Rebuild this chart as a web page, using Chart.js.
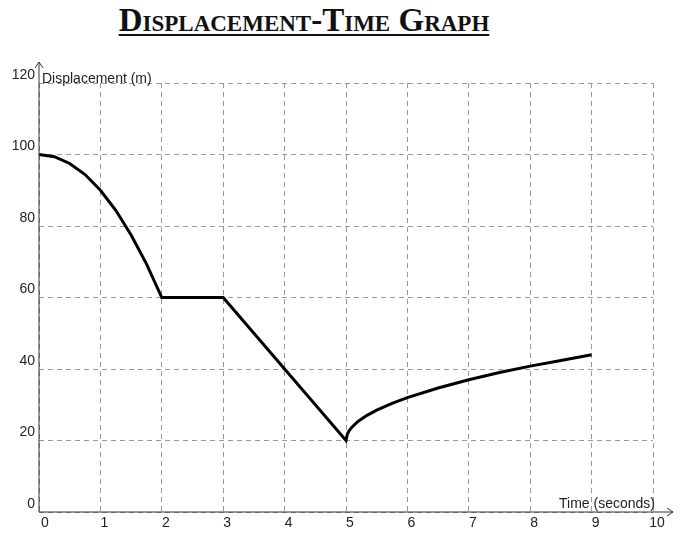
<!DOCTYPE html>
<html><head><meta charset="utf-8">
<script src="https://cdn.jsdelivr.net/npm/chart.js@4/dist/chart.umd.min.js"></script>
<style>
body{margin:0;background:#fff;width:697px;height:542px;overflow:hidden;position:relative}
#t{position:absolute;left:0;width:608px;top:2px;text-align:center;font-family:"Liberation Serif",serif;font-weight:bold;font-size:33px;font-variant:small-caps;text-decoration:underline;text-decoration-thickness:2px;text-underline-offset:3px;color:#111}
#w{position:absolute;left:0;top:0;width:697px;height:542px}
</style></head><body>
<div id="t">Displacement-Time Graph</div>
<div id="w"><canvas id="c"></canvas></div>
<script>
const timeValues=[0,0.25,0.5,0.75,1,1.25,1.5,1.75,2,3,5,5.02,5.05,5.1,5.2,5.35,5.5,5.75,6,6.5,7,7.5,8,8.5,9];
const displacementValues=[100,99.4,97.5,94.4,90,84.4,77.5,69.4,60,60,20,21.7,22.7,23.8,25.4,27.1,28.5,30.4,32,34.7,37,39,40.8,42.4,44];
const xTicks=[0,1,2,3,4,5,6,7,8,9,10];
const yTicks=[0,20,40,60,80,100,120];
const deco={id:'deco',afterDraw(ch){
 const c=ch.ctx,x=ch.scales.x,y=ch.scales.y;
 const x0=x.getPixelForValue(0),y0=y.getPixelForValue(0);
 c.save();c.strokeStyle='#333';c.lineWidth=1;
 c.beginPath();c.moveTo(x0,y0);c.lineTo(x0,62);c.moveTo(x0-4,68);c.lineTo(x0,62);c.lineTo(x0+4,68);
 c.moveTo(x0,y0);c.lineTo(673,y0);c.moveTo(667,y0-4);c.lineTo(673,y0);c.lineTo(667,y0+4);c.stroke();
 c.fillStyle='#222';c.font='14px "Liberation Sans",Arial';
 c.textAlign='center';c.textBaseline='top';
 xTicks.forEach(v=>{c.fillText(String(v),x.getPixelForValue(v)+(v===0?6:4),y0+4);});
 c.textAlign='right';c.textBaseline='bottom';
 yTicks.forEach(v=>{c.fillText(String(v),x0-4,y.getPixelForValue(v)-1);});
 c.textAlign='left';c.fillText('Displacement (m)',x0+3,y.getPixelForValue(120)+3);
 c.textAlign='right';c.fillText('Time (seconds)',x.getPixelForValue(10)+2,y0-1);
 c.restore();}};
new Chart(document.getElementById('c'),{type:'line',
 data:{datasets:[{data:timeValues.map((t,i)=>({x:t,y:displacementValues[i]})),borderColor:'#000',borderWidth:3,pointRadius:0,tension:0,fill:false}]},
 options:{responsive:true,maintainAspectRatio:false,animation:false,
  layout:{padding:{left:39,right:44,top:83,bottom:30}},
  plugins:{legend:{display:false},tooltip:{enabled:false}},
  scales:{
   x:{type:'linear',min:0,max:10,afterBuildTicks:s=>{s.ticks=xTicks.map(v=>({value:v}))},ticks:{display:false},border:{display:false,dash:[5,4]},grid:{drawTicks:false,color:'#999',lineWidth:1}},
   y:{type:'linear',min:0,max:120,afterBuildTicks:s=>{s.ticks=yTicks.map(v=>({value:v}))},ticks:{display:false},border:{display:false,dash:[5,4]},grid:{drawTicks:false,color:'#999',lineWidth:1}}
  }},
 plugins:[deco]
});
</script></body></html>
